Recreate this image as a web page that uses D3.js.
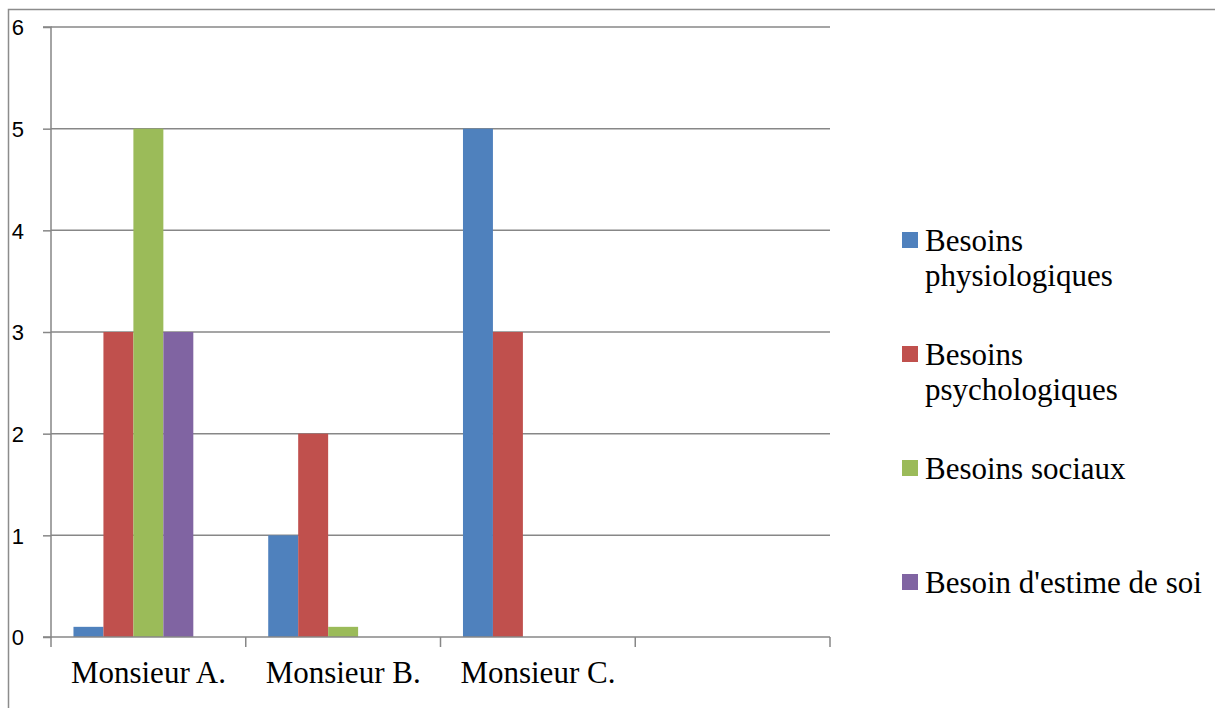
<!DOCTYPE html>
<html>
<head>
<meta charset="utf-8">
<script src="https://cdn.jsdelivr.net/npm/d3@7"></script>
<style>
  html, body { margin: 0; padding: 0; background: #fff; }
  svg { display: block; }
</style>
</head>
<body>
<svg id="chart" width="1215" height="708"></svg>
<script>
const categories = ["Monsieur A.", "Monsieur B.", "Monsieur C.", ""];
const seriesNames = ["Besoins physiologiques", "Besoins psychologiques", "Besoins sociaux", "Besoin d'estime de soi"];
const legendLines = [["Besoins", "physiologiques"], ["Besoins", "psychologiques"], ["Besoins sociaux"], ["Besoin d'estime de soi"]];
const physiologiques = [0.1, 1, 5, null];
const psychologiques = [3, 2, 3, null];
const sociaux = [5, 0.1, 0, null];
const estime = [3, 0, 0, null];
const seriesValues = [physiologiques, psychologiques, sociaux, estime];
const colors = ["#4F81BD", "#C0504D", "#9BBB59", "#8064A2"];
const yTicks = [0, 1, 2, 3, 4, 5, 6];

(function () {
const svg = d3.select("#chart");
const gridColor = "#878787";
const serif = "'Liberation Serif', 'Times New Roman', serif";

// outer frame
svg.append("path").attr("d", "M8.5,708 V9.5 H1215")
  .attr("fill", "none").attr("stroke", "#8c8c8c").attr("stroke-width", 1.5);

const pLeft = 51, pRight = 830, pTop = 27, pBottom = 637;
const x0 = d3.scaleBand().domain(categories.map((c, i) => i)).range([pLeft, pRight]);
// five slots per category (the fifth slot is empty), gap 150% of bar width
const slots = seriesNames.concat(["_empty"]);
const barW = x0.bandwidth() / (slots.length + 1.5);
const x1 = d3.scaleBand().domain(slots).range([0.75 * barW, x0.bandwidth() - 0.75 * barW]);
const y = d3.scaleLinear().domain([0, 6]).range([pBottom, pTop]);

// gridlines
svg.append("g").selectAll("line").data(yTicks.filter(t => t > 0)).join("line")
  .attr("x1", pLeft).attr("x2", pRight)
  .attr("y1", d => y(d)).attr("y2", d => y(d))
  .attr("stroke", gridColor).attr("stroke-width", 1.5);

// bars
seriesValues.forEach((vals, si) => {
  svg.append("g").selectAll("rect").data(vals.map((v, ci) => ({v, ci})).filter(d => d.v))
    .join("rect")
    .attr("x", d => x0(d.ci) + x1(seriesNames[si]))
    .attr("width", x1.bandwidth())
    .attr("y", d => y(d.v))
    .attr("height", d => y(0) - y(d.v))
    .attr("fill", colors[si]);
});

// y axis
const yAxis = d3.axisLeft(y).tickValues(yTicks).tickSize(8).tickFormat(d3.format("d"));
const gy = svg.append("g").attr("transform", `translate(${pLeft},0)`).call(yAxis);
gy.attr("font-size", 22).attr("font-family", "'Liberation Sans', Arial, sans-serif");
gy.select(".domain").attr("stroke", gridColor).attr("stroke-width", 1.5).attr("d", `M-8,${pTop}H0V${pBottom}H-8`);
gy.selectAll(".tick line").attr("stroke", gridColor).attr("stroke-width", 1.5);
gy.selectAll(".tick text").attr("x", -27).attr("dy", "0.36em")
  .style("font-size", "22px").attr("fill", "#000");

// x axis
const xAxis = d3.axisBottom(x0).tickSize(0).tickFormat(i => categories[i]);
const gx = svg.append("g").attr("transform", `translate(0,${pBottom})`).call(xAxis);
gx.attr("font-family", serif).attr("font-size", 31);
gx.select(".domain").attr("stroke", gridColor).attr("stroke-width", 1.5).attr("d", `M${pLeft},0H${pRight}`);
gx.selectAll(".tick text").attr("y", 46).attr("dy", 0).attr("fill", "#000");
// category boundary ticks
svg.append("g").selectAll("line").data(d3.range(categories.length + 1)).join("line")
  .attr("x1", i => i < categories.length ? x0(i) : pRight)
  .attr("x2", i => i < categories.length ? x0(i) : pRight)
  .attr("y1", pBottom).attr("y2", pBottom + 10)
  .attr("stroke", gridColor).attr("stroke-width", 1.5);

// legend
const lg = svg.append("g");
const legendTop = 232, legendStep = 114;
seriesNames.forEach((name, i) => {
  const g = lg.append("g").attr("transform", `translate(902,${legendTop + i * legendStep})`);
  g.append("rect").attr("width", 16).attr("height", 16).attr("fill", colors[i]);
  legendLines[i].forEach((line, j) => {
    g.append("text").attr("x", 23).attr("y", 19 + j * 35).text(line)
      .attr("font-family", serif).attr("font-size", 31).attr("fill", "#000");
  });
});
})();
</script>
</body>
</html>
